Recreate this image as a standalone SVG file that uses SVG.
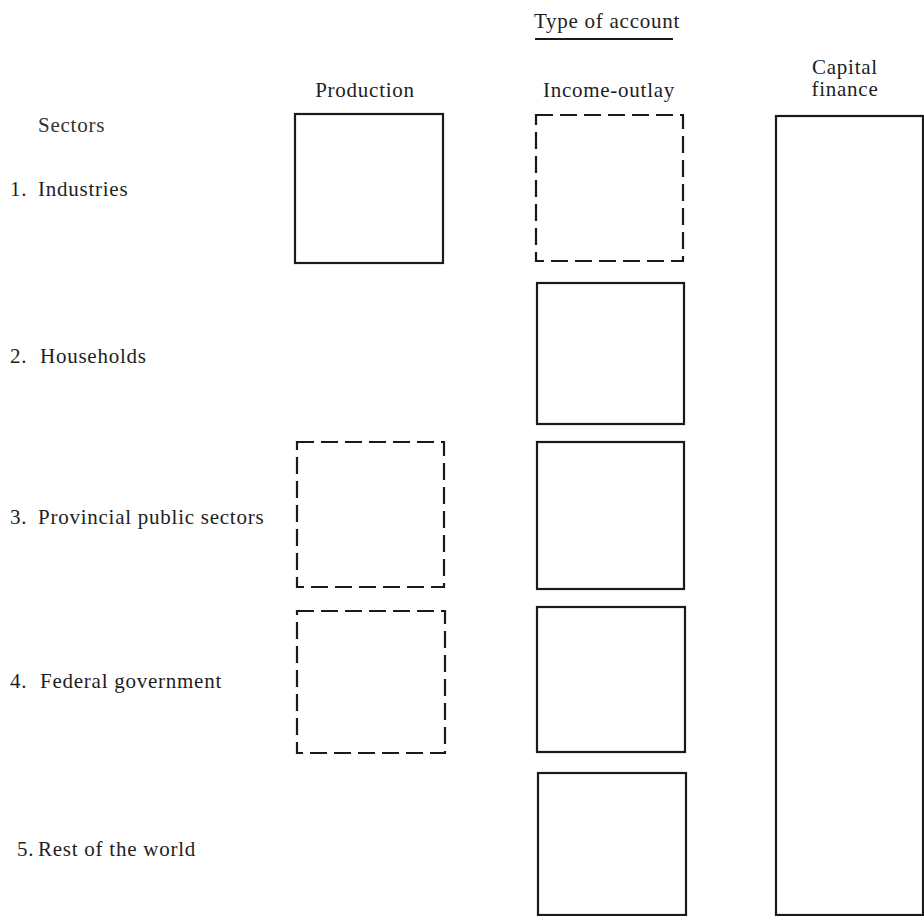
<svg xmlns="http://www.w3.org/2000/svg" width="924" height="916" viewBox="0 0 924 916">
<style>
text{font-family:'Liberation Serif','Times New Roman','DejaVu Serif',serif;font-size:21px;fill:#1e1e1e;letter-spacing:0.75px}
.c{text-anchor:middle}
.box{fill:none;stroke:#1a1a1a;stroke-width:2.2}
.dash{stroke-dasharray:17 7}
</style>
<rect width="924" height="916" fill="#fff"/>
<g id="header" font-family="Liberation Serif, serif">
<text class="c" x="607" y="28">Type of account</text>
<line x1="535" y1="39" x2="673" y2="39" stroke="#1a1a1a" stroke-width="2"/>
<text class="c" x="365" y="97">Production</text>
<text class="c" x="609" y="97">Income-outlay</text>
<text class="c" x="845" y="74">Capital</text>
<text class="c" x="845" y="96">finance</text>
</g>
<g id="sectors" font-family="Liberation Serif, serif">
<text x="38" y="132" style="fill:#333">Sectors</text>
<text x="10" y="196">1.<tspan x="38">Industries</tspan></text>
<text x="10" y="363">2.<tspan x="40">Households</tspan></text>
<text x="10" y="524">3.<tspan x="38">Provincial public sectors</tspan></text>
<text x="10" y="688">4.<tspan x="40">Federal government</tspan></text>
<text x="17" y="856">5.<tspan x="38">Rest of the world</tspan></text>
</g>
<g id="prod-industries"><rect class="box" x="295" y="114" width="148" height="149"/></g>
<g id="prod-provincial"><rect class="box dash" x="297" y="442" width="147" height="145"/></g>
<g id="prod-federal"><rect class="box dash" x="297" y="611" width="148" height="142"/></g>
<g id="inc-industries"><rect class="box dash" x="536" y="115" width="147" height="146"/></g>
<g id="inc-households"><rect class="box" x="537" y="283" width="147" height="141"/></g>
<g id="inc-provincial"><rect class="box" x="537" y="442" width="147" height="147"/></g>
<g id="inc-federal"><rect class="box" x="537" y="607" width="148" height="145"/></g>
<g id="inc-world"><rect class="box" x="538" y="773" width="148" height="142"/></g>
<g id="capital-finance"><rect class="box" x="776" y="116" width="147" height="799"/></g>
<g id="connectors"></g>
</svg>
